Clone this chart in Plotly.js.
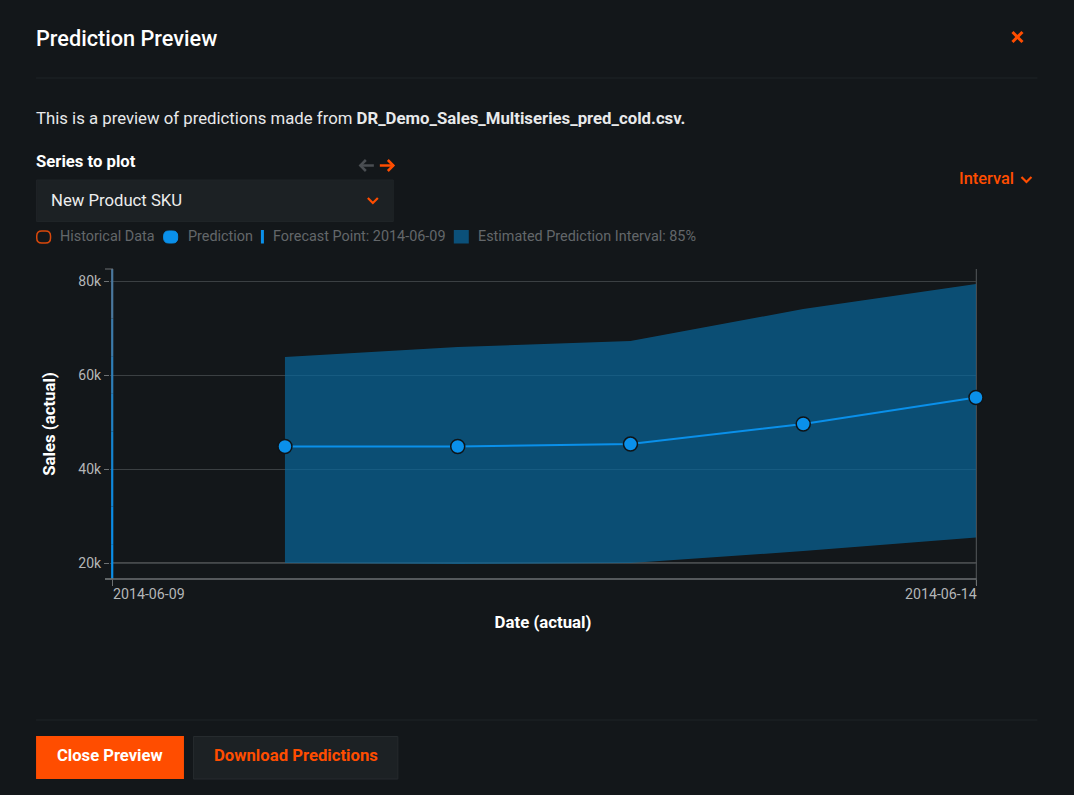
<!DOCTYPE html>
<html>
<head>
<meta charset="utf-8">
<script src="https://cdn.plot.ly/plotly-3.0.1.min.js"></script>
<style>
html,body{margin:0;padding:0;background:#13171a;overflow:hidden}
#chart{width:1074px;height:795px}
</style>
</head>
<body>
<div id="chart"></div>
<script>
const dates = ["2014-06-10","2014-06-11","2014-06-12","2014-06-13","2014-06-14"];
const prediction = [44790,44780,45300,49570,55210];
const upperBound = [63830,65960,67230,74040,79360];
const lowerBound = [20000,19800,20000,22550,25430];
const forecastPoint = "2014-06-09";
const xTickDates = ["2014-06-09","2014-06-14"];
const xRange = ["2014-06-08 23:41:40","2014-06-14"];
const yTickValues = [20000,40000,60000,80000];
const yTickLabels = ["20k","40k","60k","80k"];
const yRange = [16596,82553];
const forecastFadeValues = [16596,24000,32000,40000,48000,56000,64000,72000,82553];
const forecastFadeColors = ["#0a8ee8","#0a8ce6","#0e88dc","#1484d0","#2081c4","#2e7eb8","#3c7bab","#4a789e"];

const ORANGE="#ff4d00", BLUE="#0a90ea", BG="#13171a", PANEL="#1c2124";
const L=110,R=976.5,T=269,B=579;
const px=x=>(x-L)/(R-L), py=y=>(B-y)/(B-T);
const P=(x,y)=>px(x)+","+py(y);
const F="Roboto, sans-serif";

function label(x,y,text,size,color,anchor,weight){
  return {xref:"paper",yref:"paper",x:px(x),y:py(y),text:text,showarrow:false,
    xanchor:anchor||"left",yanchor:"middle",align:anchor||"left",borderpad:0,
    font:{family:F,size:size,color:color,weight:weight||400}};
}
function rect(x0,y0,x1,y1,fill,line){
  return {type:"rect",xref:"paper",yref:"paper",layer:"below",x0:px(x0),x1:px(x1),y0:py(y0),y1:py(y1),
    fillcolor:fill,line:{color:line||fill,width:line?1:0}};
}
function hline(x0,x1,y,color,w,layer){
  return {type:"line",xref:"paper",yref:"paper",layer:layer||"above",x0:px(x0),x1:px(x1),y0:py(y),y1:py(y),line:{color:color,width:w}};
}
function vline(x,y0,y1,color,w,layer){
  return {type:"line",xref:"paper",yref:"paper",layer:layer||"above",x0:px(x),x1:px(x),y0:py(y0),y1:py(y1),line:{color:color,width:w}};
}
function path(pts,color,w,fill){
  return {type:"path",xref:"paper",yref:"paper",layer:"above",
    path:"M"+pts.map(p=>P(p[0],p[1])).join(" L")+(fill?" Z":""),
    fillcolor:fill||"rgba(0,0,0,0)",line:{color:color,width:w}};
}
function pill(x0,y0,x1,y1,r,stroke,w,fill){
  return {type:"path",xref:"paper",yref:"paper",layer:"above",fillcolor:fill||"rgba(0,0,0,0)",line:{color:stroke,width:w},
    path:"M"+P(x0+r,y0)+" L"+P(x1-r,y0)+" Q"+P(x1,y0)+" "+P(x1,y0+r)+" L"+P(x1,y1-r)+" Q"+P(x1,y1)+" "+P(x1-r,y1)+
         " L"+P(x0+r,y1)+" Q"+P(x0,y1)+" "+P(x0,y1-r)+" L"+P(x0,y0+r)+" Q"+P(x0,y0)+" "+P(x0+r,y0)+" Z"};
}

const traces=[
 {x:dates,y:lowerBound,type:"scatter",mode:"lines",line:{width:0,color:"rgba(0,0,0,0)"},showlegend:false,hoverinfo:"skip",name:"Lower bound"},
 {x:dates,y:upperBound,type:"scatter",mode:"lines",line:{width:0,color:"rgba(0,0,0,0)"},fill:"tonexty",fillcolor:"rgba(8,103,155,0.7)",showlegend:false,hoverinfo:"skip",name:"Estimated Prediction Interval: 85%"}
];
forecastFadeColors.forEach((c,i)=>{
  traces.push({x:[forecastPoint,forecastPoint],y:[forecastFadeValues[i],forecastFadeValues[i+1]],type:"scatter",mode:"lines",
    cliponaxis:false,showlegend:false,hoverinfo:"skip",name:"Forecast Point",line:{color:c,width:2.2}});
});
traces.push({x:dates,y:prediction,type:"scatter",mode:"lines+markers",cliponaxis:false,name:"Prediction",showlegend:false,
  line:{color:BLUE,width:2},marker:{size:14,color:BLUE,line:{color:"#0f1417",width:1.5}}});

const shapes=[
 hline(36,1038,78,"#1f2427",1,"below"),
 hline(36,1038,720,"#1f2427",1,"below"),
 rect(36.5,180,393.5,221.5,PANEL,"#1f2427"),
 rect(36,736,184,779,ORANGE),
 rect(193.5,736.5,398,779,PANEL,"#262b2e"),
 // close icon
 path([[1013,32],[1023,42]],ORANGE,3),
 path([[1023,32],[1013,42]],ORANGE,3),
 // arrows
 path([[360,165.5],[374,165.5]],"#4a4e52",2.5),
 path([[366,160],[360.5,165.5],[366,171]],"#4a4e52",2.5),
 path([[380,165.5],[394,165.5]],ORANGE,2.5),
 path([[388,160],[393.5,165.5],[388,171]],ORANGE,2.5),
 // select chevron and interval chevron
 path([[368,198],[373,203],[378,198]],ORANGE,2.2),
 path([[1022,177],[1027,182],[1032,177]],ORANGE,2.2),
 // legend
 pill(36.7,231,50.5,243,5,"#d9480b",1.5),
 pill(163.7,231,177.7,243,5,BLUE,1,BLUE),
 rect(261,230,264,243.5,BLUE),
 rect(454,230,469,243.5,"#0b5079"),
 // axis frame
 hline(105,113,269,"#6d7173",1),
 hline(105,113,579,"#6d7173",1),
 hline(105,977,579,"#6d7173",1.5),
 hline(113,977,563,"#46494b",2,"below"),
 vline(976.8,269,585,"#55595c",1,"below")
];

const annotations=[
 label(35,38.5,"Prediction Preview",21.7,"#ffffff","left",500),
 label(34.5,118,"This is a preview of predictions made from <b>DR_Demo_Sales_Multiseries_pred_cold.csv.</b>",16.75,"#e8e9ea"),
 label(35,161,"Series to plot",16.7,"#ffffff","left",700),
 label(50,200.5,"New Product SKU",16.7,"#eceded"),
 label(1016,178.5,"Interval",16.4,ORANGE,"right",500),
 label(58.5,236,"Historical Data",14.4,"#63676a"),
 label(187,236,"Prediction",14.4,"#63676a"),
 label(272.5,236,"Forecast Point: 2014-06-09",14.4,"#63676a"),
 label(477.5,236,"Estimated Prediction Interval: 85%",14.4,"#63676a"),
 label(110,755.5,"Close Preview",16.6,"#ffffff","center",700),
 label(296,755.5,"Download Predictions",16.7,ORANGE,"center",700),
 {xref:"x",yref:"paper",x:xTickDates[0],y:py(594),text:xTickDates[0],showarrow:false,xanchor:"left",yanchor:"middle",borderpad:0,font:{family:F,size:14.2,color:"#b4b6b8"}},
 {xref:"x",yref:"paper",x:xTickDates[1],y:py(594),xshift:2,text:xTickDates[1],showarrow:false,xanchor:"right",yanchor:"middle",borderpad:0,font:{family:F,size:14.2,color:"#b4b6b8"}}
];

const layout={
 width:1074,height:795,
 paper_bgcolor:BG,plot_bgcolor:BG,
 margin:{l:L,r:1074-R,t:T,b:795-B,pad:0},
 showlegend:false,hovermode:false,
 font:{family:F,color:"#b4b6b8",size:14},
 xaxis:{type:"date",range:xRange,tickmode:"array",tickvals:xTickDates,ticktext:["",""],
   ticks:"outside",ticklen:6,tickcolor:"#6d7173",tickwidth:1,showgrid:false,zeroline:false,showline:false,
   title:{text:"Date (actual)",font:{family:F,size:16.8,color:"#ffffff",weight:700},standoff:28}},
 yaxis:{range:yRange,tickmode:"array",tickvals:yTickValues,ticktext:yTickLabels,
   ticks:"outside",ticklen:5,tickcolor:"#6d7173",tickwidth:1,showgrid:true,gridcolor:"#3b4043",gridwidth:1,
   zeroline:false,showline:false,tickfont:{family:F,size:14,color:"#b4b6b8"},
   title:{text:"Sales (actual)",font:{family:F,size:16.8,color:"#ffffff",weight:700},standoff:18}},
 shapes:shapes,annotations:annotations
};
Plotly.newPlot("chart",traces,layout,{displayModeBar:false,staticPlot:true});
</script>
</body>
</html>
